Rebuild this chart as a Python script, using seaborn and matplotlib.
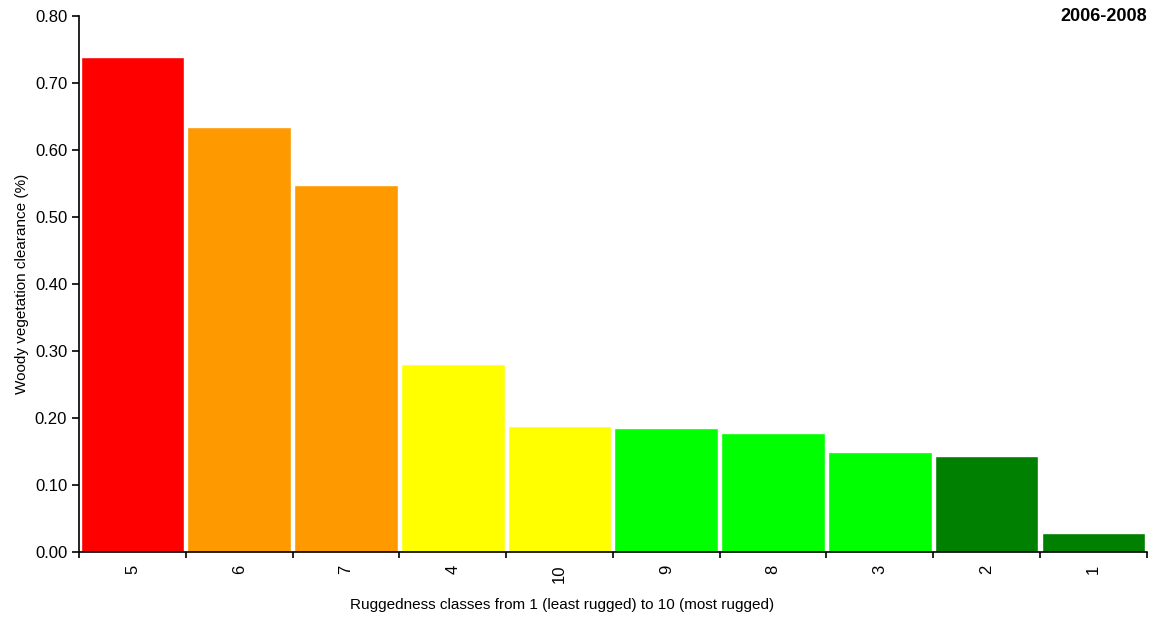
import matplotlib
matplotlib.use("Agg")
import matplotlib.pyplot as plt
import seaborn as sns
import pandas as pd
import numpy as np

# Классы по убыванию значения
classes = ["5", "6", "7", "4", "10", "9", "8", "3", "2", "1"]
clearance = [0.739, 0.634, 0.548, 0.281, 0.188, 0.185, 0.178, 0.149, 0.143, 0.028]
colors = ["#FF0000", "#FF9900", "#FF9900", "#FFFF00", "#FFFF00",
          "#00FF00", "#00FF00", "#00FF00", "#008000", "#008000"]

df = pd.DataFrame({"cls": classes, "val": clearance})

sns.set_style("ticks")
plt.rcParams["font.family"] = ["Liberation Sans", "DejaVu Sans"]
plt.rcParams["text.color"] = "black"
plt.rcParams["axes.labelcolor"] = "black"
plt.rcParams["xtick.color"] = "black"
plt.rcParams["ytick.color"] = "black"

fig = plt.figure(figsize=(11.49, 6.19), dpi=100)
ax = fig.add_axes([0.0688, 0.108, 0.9292, 0.866])

sns.barplot(data=df, x="cls", y="val", hue="cls", palette=colors,
            order=classes, hue_order=classes, legend=False,
            width=0.97, saturation=1, ax=ax)

ax.set_xlim(-0.5, len(classes) - 0.5)
ax.set_ylim(0, 0.8)
ax.set_yticks(np.arange(0, 0.81, 0.1))
ax.set_yticklabels([f"{v:.2f}" for v in np.arange(0, 0.81, 0.1)], fontsize=12)

# метки по центру, засечки на границах столбцов
ax.tick_params(axis="x", which="major", length=0, labelrotation=90, labelsize=12, pad=9)
ax.set_xticks(np.arange(-0.5, len(classes)), minor=True)
ax.tick_params(axis="x", which="minor", length=4, width=1.2, color="black")
ax.tick_params(axis="y", length=5, width=1.2, color="black")

sns.despine(ax=ax)
for s in ["left", "bottom"]:
    ax.spines[s].set_linewidth(1.2)
    ax.spines[s].set_color("black")

ax.set_xlabel("Ruggedness classes from 1 (least rugged) to 10 (most rugged)", fontsize=11, labelpad=10)
ax.xaxis.set_label_coords(0.452, -0.085)
ax.set_ylabel("Woody vegetation clearance (%)", fontsize=11, labelpad=4)
ax.text(1.0, 1.0, "2006-2008", transform=ax.transAxes, ha="right", va="center",
        fontsize=13, fontweight="bold")

fig.savefig("out.png", dpi=100)
